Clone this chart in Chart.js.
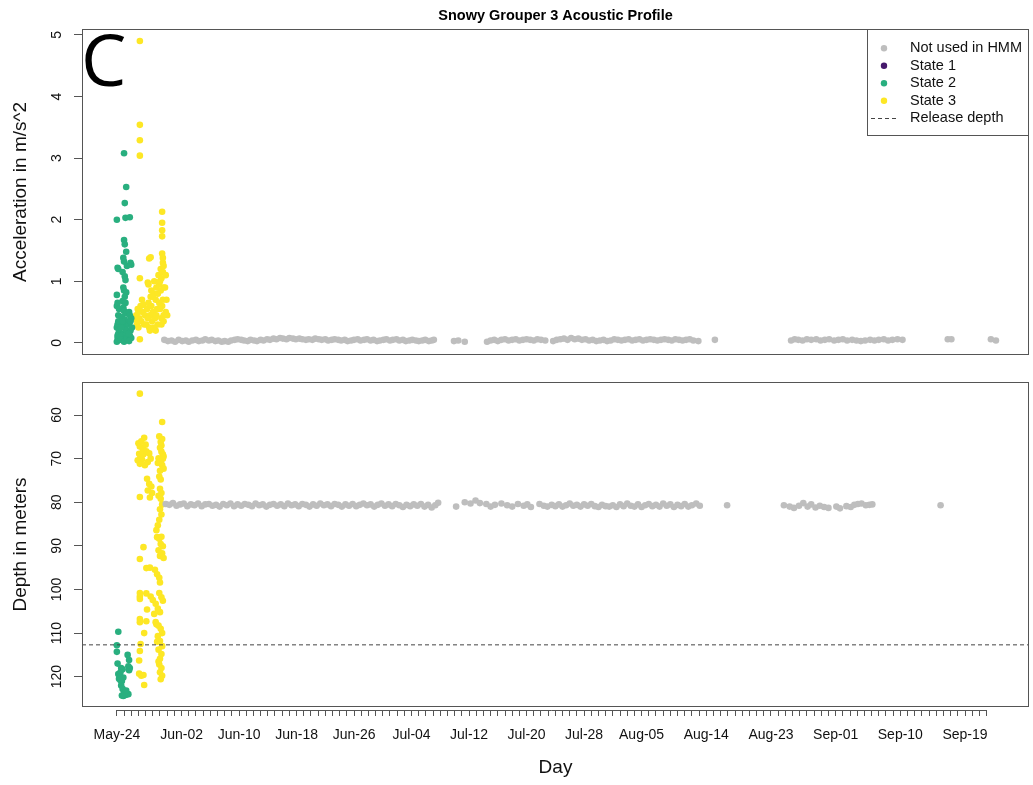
<!DOCTYPE html>
<html lang="en">
<head>
<meta charset="UTF-8">
<title>Snowy Grouper 3 Acoustic Profile</title>
<script src="https://cdn.jsdelivr.net/npm/chart.js"></script>
<style>
  body { margin: 0; background: #fff; }
  #wrap { position: relative; width: 1033px; height: 785px; }
  #wrap canvas { position: absolute; left: 0; }
  #accelChart { top: 0; }
  #depthChart { top: 369px; }
</style>
</head>
<body>
<div id="wrap">
  <canvas id="accelChart" width="1033" height="370"></canvas>
  <canvas id="depthChart" width="1033" height="416"></canvas>
</div>
<script>
  // days are counted from May-24 (day 0)
  const labelDays = [0, 9, 17, 25, 33, 41, 49, 57, 65, 73, 82, 91, 100, 109, 118];
  const labelTexts = ['May-24', 'Jun-02', 'Jun-10', 'Jun-18', 'Jun-26', 'Jul-04', 'Jul-12', 'Jul-20',
                      'Jul-28', 'Aug-05', 'Aug-14', 'Aug-23', 'Sep-01', 'Sep-10', 'Sep-19'];
  const tickDays = Array.from({ length: 122 }, (_, i) => i);
  const accelTicks = [0, 1, 2, 3, 4, 5];
  const depthTicks = [60, 70, 80, 90, 100, 110, 120];
  const releaseDepth = 112.7;

  const legendLabels = ['Not used in HMM', 'State 1', 'State 2', 'State 3', 'Release depth'];

  // acceleration, [day, m/s^2]
  const notUsedAccel = [
    [6.6,.05],[7.1,.03],[7.6,.04],[8.1,.02],[8.6,.05],[9.1,.03],[9.6,.04],[10.0,.02],[10.5,.04],[11.0,.05],
    [11.4,.03],[11.9,.04],[12.3,.06],[12.8,.04],[13.2,.05],[13.7,.03],[14.1,.04],[14.6,.02],[15.0,.03],[15.5,.02],
    [15.9,.04],[16.4,.05],[16.8,.06],[17.3,.05],[17.7,.04],[18.2,.03],[18.6,.05],[19.1,.04],[19.5,.03],[20.0,.05],
    [20.4,.04],[20.9,.06],[21.3,.05],[21.8,.07],[22.2,.06],[22.7,.08],[23.1,.07],[23.6,.06],[24.0,.08],[24.5,.07],
    [24.9,.06],[25.4,.07],[25.8,.06],[26.3,.05],[26.7,.06],[27.2,.05],[27.6,.07],[28.1,.06],[28.5,.05],[29.0,.06],
    [29.4,.04],[29.9,.05],[30.3,.06],[30.8,.05],[31.2,.04],[31.7,.05],[32.1,.03],[32.6,.04],[33.0,.05],[33.5,.06],
    [33.9,.04],[34.4,.05],[34.8,.06],[35.3,.04],[35.7,.05],[36.2,.03],[36.6,.04],[37.1,.05],[37.5,.06],[38.0,.04],
    [38.4,.05],[38.9,.06],[39.3,.04],[39.8,.05],[40.2,.03],[40.7,.04],[41.1,.05],[41.6,.04],[42.0,.03],[42.5,.04],
    [42.9,.05],[43.4,.03],[43.8,.04],[44.1,.05],
    [46.9,.03],[47.5,.04],[48.4,.02],
    [51.5,.02],[52.0,.04],[52.5,.05],[53.0,.03],[53.5,.05],[54.0,.06],[54.5,.04],[55.0,.05],[55.5,.06],[56.0,.04],
    [56.5,.05],[57.0,.06],[57.5,.05],[58.0,.04],[58.5,.06],[59.0,.05],[59.6,.04],
    [60.7,.03],[61.2,.05],[61.7,.06],[62.2,.07],[62.7,.05],[63.2,.08],[63.7,.06],[64.2,.07],[64.7,.05],[65.2,.06],
    [65.7,.04],[66.2,.05],[66.7,.03],[67.2,.04],[67.7,.05],[68.2,.03],[68.7,.04],[69.2,.06],[69.7,.05],[70.2,.04],
    [70.7,.05],[71.2,.06],[71.7,.04],[72.2,.05],[72.7,.06],[73.2,.04],[73.7,.05],[74.2,.06],[74.7,.05],[75.2,.04],
    [75.7,.05],[76.2,.06],[76.7,.05],[77.2,.04],[77.7,.06],[78.2,.05],[78.7,.04],[79.2,.05],[79.7,.06],[80.2,.04],
    [80.9,.03],
    [83.2,.05],
    [93.8,.04],[94.3,.06],[94.8,.05],[95.4,.04],[96.0,.06],[96.6,.05],[97.3,.06],[97.9,.04],[98.5,.05],[99.1,.06],
    [99.8,.04],[100.4,.05],[101.0,.06],[101.6,.04],[102.3,.05],[102.9,.04],[103.5,.03],[104.1,.04],[104.8,.05],
    [105.4,.04],[106.0,.05],[106.7,.06],[107.3,.04],[107.9,.05],[108.6,.06],[109.3,.05],
    [115.6,.06],[116.1,.06],
    [121.6,.06],[122.3,.04]
  ];
  const state2Accel = [
    [0.0,2.0],[0.1,1.22],[0.2,1.2],[0.0,0.78],[0.1,0.65],[0.0,0.6],[0.2,0.45],[0.1,0.3],[0.0,0.25],[0.2,0.15],
    [0.1,0.08],[0.0,0.02],[0.3,0.05],[0.2,0.35],[0.3,0.2],[0.1,0.12],[0.3,0.55],
    [1.0,3.08],[1.3,2.53],[1.1,2.27],[1.2,2.03],[1.0,1.67],[1.1,1.6],[1.3,1.48],[0.9,1.38],[1.0,1.32],[1.4,1.25],
    [0.8,1.15],[1.1,1.08],[1.2,1.02],[0.9,0.9],[1.0,0.85],[1.3,0.82],[1.1,0.75],[0.8,0.68],[1.2,0.65],[0.9,0.58],
    [1.0,0.52],[1.3,0.48],[0.7,0.42],[1.1,0.38],[1.2,0.32],[0.8,0.28],[1.0,0.25],[1.4,0.2],[0.9,0.15],[1.1,0.1],
    [1.2,0.05],[0.7,0.12],[1.3,0.15],[0.6,0.05],[1.0,0.02],[1.4,0.08],[0.8,0.35],[1.2,0.22],[0.6,0.25],
    [1.8,2.04],[1.9,1.3],[2.0,1.27],[1.7,0.5],[1.8,0.45],[2.0,0.4],[1.7,0.3],[1.9,0.2],[1.8,0.12],[2.0,0.08],
    [1.7,0.03],[1.9,0.35],[2.1,0.25],[1.6,0.15]
  ];
  const state3Accel = [
    [3.2,4.9],[3.2,3.54],[3.2,3.29],[3.2,3.04],[3.2,1.05],[3.2,0.06],
    [2.7,0.45],[2.8,0.3],[2.9,0.55],[3.0,0.25],[3.1,0.4],[3.3,0.6],[3.4,0.35],[3.5,0.7],[3.6,0.5],[3.8,0.3],
    [3.9,0.45],[2.7,0.38],[3.0,0.5],[3.7,0.62],
    [4.1,0.3],[4.2,0.55],[4.3,0.98],[4.4,0.65],[4.5,1.37],[4.7,1.39],[4.6,0.45],[4.8,0.85],[4.9,0.35],[4.5,0.25],
    [4.3,0.4],[4.8,0.6],[4.7,0.75],[4.4,0.95],[4.6,0.2],
    [5.0,0.5],[5.1,0.8],[5.2,1.0],[5.3,0.4],[5.4,0.7],[5.5,0.9],[5.6,0.55],[5.7,0.3],[5.8,1.1],[5.9,0.65],
    [5.2,0.25],[5.5,0.45],[5.0,0.75],[5.7,0.8],[5.4,0.2],[5.9,0.95],
    [6.0,0.55],[6.1,1.2],[6.2,0.4],[6.3,1.45],[6.3,2.13],[6.3,1.95],[6.3,1.83],[6.3,1.73],[6.4,1.3],[6.4,1.15],
    [6.2,1.05],[6.5,0.9],[6.4,0.7],[6.5,0.45],[6.1,0.85],[6.3,0.6],[6.5,1.25],[6.4,1.38],[6.2,0.3],[6.0,1.0],
    [6.5,0.35],[6.8,0.5],[6.9,0.7],[7.0,0.45],[6.7,0.9],[6.8,1.1]
  ];

  // depth, [day, metres]
  const notUsedDepth = [
    [6.8,80.4],[7.3,80.6],[7.8,80.2],[8.3,80.8],[8.8,80.5],[9.3,80.3],[9.8,80.9],[10.3,80.5],[10.8,80.7],[11.3,80.3],
    [11.8,80.9],[12.3,80.5],[12.8,80.4],[13.3,80.8],[13.8,80.6],[14.3,81.0],[14.8,80.4],[15.3,80.7],[15.8,80.3],[16.3,80.9],
    [16.8,80.5],[17.3,80.8],[17.8,80.4],[18.3,80.6],[18.8,80.9],[19.3,80.3],[19.8,80.7],[20.3,80.5],[20.8,81.0],[21.3,80.6],
    [21.8,80.4],[22.3,80.8],[22.8,80.5],[23.3,80.9],[23.8,80.3],[24.3,80.7],[24.8,80.5],[25.3,80.9],[25.8,80.4],[26.3,80.6],
    [26.8,81.0],[27.3,80.5],[27.8,80.8],[28.3,80.3],[28.8,80.7],[29.3,80.5],[29.8,80.9],[30.3,80.4],[30.8,80.6],[31.3,81.0],
    [31.8,80.5],[32.3,80.8],[32.8,80.4],[33.3,80.9],[33.8,80.6],[34.3,80.3],[34.8,80.7],[35.3,80.5],[35.8,81.0],[36.3,80.6],
    [36.8,80.3],[37.3,80.8],[37.8,80.5],[38.3,80.9],[38.8,80.4],[39.3,80.7],[39.8,81.1],[40.3,80.6],[40.8,80.9],[41.3,80.5],
    [41.8,80.8],[42.3,80.4],[42.8,81.0],[43.3,80.6],[43.8,81.2],[44.3,80.7],[44.7,80.1],
    [47.2,81.0],[48.4,80.0],
    [49.2,80.3],[49.9,79.6],[50.5,80.2],[51.4,80.4],[52.0,81.0],[52.6,80.6],[53.5,80.3],[54.3,80.7],[55.0,81.0],[55.8,80.4],
    [56.6,80.8],[57.1,80.5],[57.6,81.1],[58.8,80.4],[59.4,80.8],[59.9,81.0],[60.5,80.6],[61.0,80.9],[61.5,80.5],[62.0,81.0],
    [62.5,80.7],[63.0,80.3],[63.5,80.8],[64.0,80.6],[64.5,81.0],[65.0,80.5],[65.5,80.8],[66.0,80.4],[66.5,80.9],[67.0,81.1],
    [67.5,80.6],[68.0,80.9],[68.5,81.0],[69.0,80.7],[69.5,81.1],[70.0,80.5],[70.5,80.9],[71.0,80.3],[71.5,80.8],[72.0,81.0],
    [72.5,80.5],[73.0,81.1],[73.5,80.7],[74.0,80.4],[74.5,80.9],[75.0,80.6],[75.5,81.0],[76.0,80.3],[76.5,80.8],[77.0,80.5],
    [77.5,81.1],[78.0,80.6],[78.5,80.9],[79.0,80.4],[79.5,81.0],[80.0,80.7],[80.6,80.3],[81.1,80.8],
    [84.9,80.7],
    [92.8,80.7],[93.6,81.0],[94.2,81.3],[94.9,80.8],[95.5,80.2],[96.1,81.0],[96.6,80.5],[97.2,81.2],[97.8,80.8],[98.4,81.1],
    [99.0,81.3],[100.1,81.0],[100.6,81.4],[101.5,80.9],[102.1,81.1],[102.6,80.6],[103.1,80.4],[103.6,80.3],[104.2,80.7],
    [104.7,80.6],[105.1,80.5],
    [114.6,80.7]
  ];
  const state2Depth = [
    [0.2,109.7],[0.0,112.8],[0.0,114.3],[1.5,115.0],[1.7,116.2],[0.1,117.0],[0.6,118.0],[0.8,118.3],[1.8,118.0],[1.6,117.6],
    [0.2,119.4],[0.4,119.8],[0.3,120.5],[0.7,121.0],[0.5,119.0],[0.9,120.2],[0.6,122.0],[0.8,122.8],[1.0,123.5],[1.2,124.2],
    [0.9,124.4],[1.4,124.0],[1.6,124.0],[1.1,123.8],[0.7,124.3],[1.3,123.2],[0.5,120.8],[1.7,118.5]
  ];
  const state3Depth = [
    [3.2,55.1],[6.3,61.6],
    [3.0,66.5],[3.2,67.2],[3.4,66.0],[3.6,67.8],[3.8,65.2],[4.0,66.8],[3.1,68.9],[3.3,69.5],[3.5,70.2],[2.9,70.4],
    [3.7,69.0],[4.1,68.3],[4.3,70.8],[3.2,71.2],[3.9,71.5],[4.5,68.8],[4.7,70.0],[5.9,64.9],[6.1,66.2],[6.3,65.5],
    [6.0,67.5],[6.2,68.4],[6.4,69.0],[5.8,69.9],[6.1,70.6],[6.3,71.5],[6.5,72.3],[6.0,72.8],[6.2,67.0],[6.4,70.0],
    [5.7,71.0],[6.5,69.5],
    [4.2,74.6],[4.5,75.8],[4.3,77.3],[4.8,76.4],[3.2,78.8],[4.6,78.9],[4.9,77.9],[5.9,74.1],[6.1,74.8],[6.0,76.9],
    [6.2,77.9],[5.8,78.5],[6.1,79.2],[6.3,80.5],[6.0,81.6],[6.2,82.8],[5.9,84.0],[5.7,85.3],[5.5,86.4],
    [5.6,88.0],[5.9,88.4],[6.2,87.9],[6.1,89.6],[6.4,90.1],[5.8,91.0],[6.3,91.7],[6.0,92.3],[6.5,92.8],[3.7,90.3],
    [3.2,93.0],[4.1,95.1],[4.6,95.0],[5.3,95.5],[5.6,96.5],[5.9,97.3],[6.0,98.4],
    [3.2,100.8],[3.2,101.6],[3.2,102.2],[4.1,100.9],[4.7,101.6],[5.0,102.4],[5.4,103.3],[5.9,100.8],[6.2,101.8],[6.4,102.6],
    [5.7,104.4],[6.0,105.2],[5.2,105.6],[4.2,104.6],[3.2,106.8],[3.2,107.5],[4.1,107.3],[5.4,107.5],[5.8,108.3],[6.1,109.0],
    [6.3,110.0],[5.7,110.7],[3.8,110.0],[3.3,112.5],[6.0,111.8],[6.3,113.0],[5.8,113.8],[6.2,114.8],[6.0,115.9],[3.2,114.1],
    [3.1,116.3],[5.9,117.2],[6.2,118.0],[6.0,119.0],[6.3,119.8],[6.1,120.6],[3.1,119.3],[3.7,119.6],[3.4,119.8],[3.8,121.9],
    [5.8,116.5],[5.6,112.0],[5.5,108.0]
  ];

  const dayMin = -4.85, dayMax = 126.9;
  const accelMin = -0.196, accelMax = 5.096;
  const depthMin = 52.43, depthMax = 126.95;

  const GRAY = '#BEBEBE', PURPLE = '#46196C', GREEN = '#29AF7F', YELLOW = '#FDE725';
  const legendColors = [GRAY, PURPLE, GREEN, YELLOW, null];
  const FONT = '"Liberation Sans", Arial, sans-serif';
  const AXIS = '#555';

  Chart.defaults.font.family = FONT;
  Chart.defaults.color = '#111';

  const dots = (label, pairs, color) => ({
    label,
    data: pairs.map(([x, y]) => ({ x, y })),
    pointRadius: 3.3,
    pointBackgroundColor: color,
    pointBorderColor: color,
    pointBorderWidth: 0,
    showLine: false
  });

  // box round the plot region, like R's box()
  const frame = {
    id: 'frame',
    afterDatasetsDraw(chart) {
      const { ctx, chartArea: a } = chart;
      ctx.save();
      ctx.strokeStyle = AXIS;
      ctx.lineWidth = 1;
      ctx.strokeRect(Math.round(a.left) + 0.5, Math.round(a.top) + 0.5,
                     Math.round(a.right - a.left) - 1, Math.round(a.bottom - a.top) - 1);
      ctx.restore();
    }
  };

  const panelLetter = {
    id: 'panelLetter',
    afterDraw(chart) {
      const { ctx } = chart;
      ctx.save();
      ctx.fillStyle = '#000';
      ctx.font = '72px "Open Sans"';
      ctx.textBaseline = 'alphabetic';
      ctx.textAlign = 'left';
      ctx.fillText('C', 81, 86);
      ctx.restore();
    }
  };

  const legendBox = {
    id: 'legendBox',
    afterDraw(chart) {
      const { ctx, chartArea: a } = chart;
      const w = 162, h = 106;
      const x0 = Math.round(a.right) - w, y0 = Math.round(a.top);
      ctx.save();
      ctx.fillStyle = '#fff';
      ctx.fillRect(x0, y0, w, h);
      ctx.strokeStyle = AXIS;
      ctx.lineWidth = 1;
      ctx.strokeRect(x0 + 0.5, y0 + 0.5, w - 1, h);
      ctx.font = '14.5px ' + FONT;
      ctx.textBaseline = 'middle';
      ctx.textAlign = 'left';
      legendLabels.forEach((t, i) => {
        const y = y0 + 19.3 + i * 17.5;
        if (legendColors[i]) {
          ctx.fillStyle = legendColors[i];
          ctx.beginPath();
          ctx.arc(x0 + 17, y, 3.2, 0, Math.PI * 2);
          ctx.fill();
        } else {
          ctx.strokeStyle = '#444';
          ctx.setLineDash([4, 3]);
          ctx.beginPath();
          ctx.moveTo(x0 + 4, Math.round(y) + 0.5);
          ctx.lineTo(x0 + 30, Math.round(y) + 0.5);
          ctx.stroke();
          ctx.setLineDash([]);
        }
        ctx.fillStyle = '#111';
        ctx.fillText(t, x0 + 43, y);
      });
      ctx.restore();
    }
  };

  // R draws the axis line only between the first and last tick
  const axisLine = {
    id: 'axisLine',
    afterDraw(chart) {
      const { ctx, chartArea: a, scales: { x } } = chart;
      const y = Math.round(a.bottom) + 3.5;
      ctx.save();
      ctx.strokeStyle = AXIS;
      ctx.lineWidth = 1;
      ctx.beginPath();
      ctx.moveTo(x.getPixelForValue(tickDays[0]), y);
      ctx.lineTo(x.getPixelForValue(tickDays[tickDays.length - 1]), y);
      ctx.stroke();
      ctx.restore();
    }
  };

  const yAxis = (min, max, ticks, title, pad, reverse) => ({
    type: 'linear',
    min, max, reverse,
    afterBuildTicks: s => { s.ticks = ticks.map(v => ({ value: v })); },
    // fixed width, and no extra room for the rotated end labels
    afterFit: s => { s.width = 82; s.paddingTop = 0; s.paddingBottom = 0; },
    grid: { drawOnChartArea: false, drawTicks: true, tickLength: 8, color: AXIS },
    border: { display: false },
    ticks: { minRotation: 90, maxRotation: 90, crossAlign: 'center', padding: pad,
             color: '#111', font: { family: FONT, size: 14 } },
    title: { display: true, text: title, color: '#111',
             font: { family: FONT, size: 19 }, padding: { top: 9, bottom: 0 } }
  });

  const common = {
    responsive: false,
    animation: false,
    devicePixelRatio: 1,
    events: []
  };

  new Chart(document.getElementById('accelChart'), {
    type: 'scatter',
    data: {
      datasets: [
        dots('Not used in HMM', notUsedAccel, GRAY),
        dots('State 2', state2Accel, GREEN),
        dots('State 3', state3Accel, YELLOW)
      ]
    },
    options: {
      ...common,
      layout: { padding: { left: 0, right: 1, top: 0, bottom: 15 } },
      plugins: {
        legend: { display: false },
        tooltip: { enabled: false },
        title: {
          display: true, text: 'Snowy Grouper 3 Acoustic Profile', fullSize: false, color: '#000',
          font: { family: FONT, size: 14.5, weight: 'bold' }, padding: { top: 7, bottom: 4.6 }
        }
      },
      scales: {
        x: { type: 'linear', display: false, min: dayMin, max: dayMax },
        y: yAxis(accelMin, accelMax, accelTicks, 'Acceleration in m/s^2', 13, false)
      }
    },
    plugins: [frame, panelLetter, legendBox]
  });

  new Chart(document.getElementById('depthChart'), {
    type: 'scatter',
    data: {
      datasets: [
        {
          type: 'line', label: 'Release depth',
          data: [{ x: dayMin, y: releaseDepth }, { x: dayMax, y: releaseDepth }],
          borderColor: '#444', borderWidth: 1, borderDash: [4, 3], pointRadius: 0, fill: false
        },
        dots('Not used in HMM', notUsedDepth, GRAY),
        dots('State 2', state2Depth, GREEN),
        dots('State 3', state3Depth, YELLOW)
      ]
    },
    options: {
      ...common,
      layout: { padding: { left: 0, right: 1, top: 13, bottom: 0 } },
      plugins: { legend: { display: false }, tooltip: { enabled: false } },
      scales: {
        x: {
          type: 'linear', min: dayMin, max: dayMax,
          afterBuildTicks: s => { s.ticks = tickDays.map(v => ({ value: v })); },
          afterFit: s => { s.height = 78; },
          grid: { drawOnChartArea: false, tickLength: 9, tickBorderDash: [0, 3, 7], color: AXIS },
          border: { display: false },
          ticks: {
            autoSkip: false, minRotation: 0, maxRotation: 0, padding: 11,
            color: '#111', font: { family: FONT, size: 14 },
            callback: v => {
              const i = labelDays.indexOf(v);
              return i >= 0 ? labelTexts[i] : '';
            }
          },
          title: { display: true, text: 'Day', color: '#111',
                   font: { family: FONT, size: 19 }, padding: { top: 0, bottom: 6 } }
        },
        y: yAxis(depthMin, depthMax, depthTicks, 'Depth in meters', 5.3, true)
      }
    },
    plugins: [frame, axisLine]
  });
</script>
</body>
</html>
